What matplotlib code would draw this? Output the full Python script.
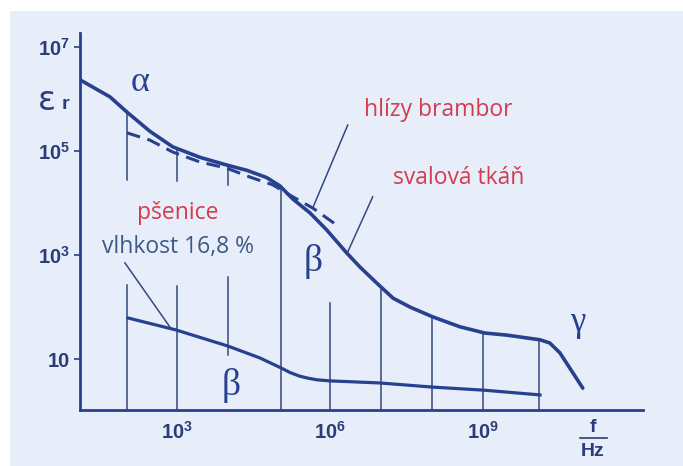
import numpy as np
import matplotlib
matplotlib.use('Agg')
import matplotlib.pyplot as plt
from matplotlib.patches import Rectangle

# exponents (log10)
# svalova tkan (solid upper curve)
musc_f = [1.10, 1.69, 2.02, 2.47, 2.92, 3.45, 3.98, 4.37, 4.76, 5.02, 5.27, 5.61,
          5.94, 6.33, 6.59, 6.92, 7.24, 7.57, 8.02, 8.55, 9.04, 9.47, 10.12, 10.31,
          10.51, 10.96]
musc_e = [6.37, 6.04, 5.75, 5.38, 5.08, 4.88, 4.73, 4.63, 4.49, 4.33, 4.08, 3.81,
          3.48, 3.04, 2.77, 2.46, 2.17, 2.00, 1.81, 1.62, 1.50, 1.46, 1.37, 1.31,
          1.12, 0.44]
# hlizy brambor (dashed)
pot_f = [2.02, 2.47, 2.92, 3.45, 3.98, 4.43, 4.88, 5.22, 5.67, 6.10]
pot_e = [5.35, 5.21, 4.98, 4.79, 4.67, 4.50, 4.35, 4.15, 3.90, 3.60]
# psenice, vlhkost 16,8 %
wheat_f = [2.04, 2.98, 4.00, 4.63, 5.04, 5.22, 5.41, 5.58, 5.75, 6.00, 6.98, 8.02, 9.04, 10.12]
wheat_e = [1.79, 1.56, 1.25, 1.02, 0.83, 0.74, 0.67, 0.63, 0.60, 0.58, 0.54, 0.46, 0.40, 0.31]

# hatching: (freq exp, bottom exp, top exp or None = up to solid curve)
hatch = [(2.02, 0.0, 2.42), (2.02, 4.44, None),
         (3.00, 0.0, 2.40), (3.00, 4.42, None),
         (4.00, 1.08, 2.58), (4.00, 4.35, None),
         (5.04, 0.0, None), (6.00, 0.0, 2.08),
         (7.00, 0.0, None), (8.00, 0.0, None), (9.00, 0.0, None), (10.10, 0.0, None)]

yticks = [1, 3, 5, 7]
ytick_labels = ['10', r'$\mathbf{10^{3}}$', r'$\mathbf{10^{5}}$', r'$\mathbf{10^{7}}$']
xticks = [3, 6, 9]
xtick_labels = [r'$\mathbf{10^{3}}$', r'$\mathbf{10^{6}}$', r'$\mathbf{10^{9}}$']

navy = '#27418f'
thin = '#34477f'
lab = '#2b3c78'
red = '#d23c4e'

plt.rcParams['mathtext.fontset'] = 'custom'
plt.rcParams['mathtext.rm'] = 'Liberation Sans'
plt.rcParams['mathtext.bf'] = 'Liberation Sans:bold'

fig = plt.figure(figsize=(6.83, 4.66), dpi=100)
fig.patch.set_facecolor('white')
fig.patches.append(Rectangle((10/683, 0), 1, 455/466, transform=fig.transFigure,
                             facecolor='#e7eef9', edgecolor='none', zorder=-10))

ax = fig.add_axes([80/683, 56/466, 563/683, 377/466])
ax.patch.set_alpha(0)
ax.set_xscale('log')
ax.set_yscale('log')
ax.set_xlim(10**1.10, 10**12.14)
ax.set_ylim(10**0.02, 10**7.27)

mf = 10.0 ** np.array(musc_f)
me = 10.0 ** np.array(musc_e)
ax.plot(mf, me, color=navy, lw=2.6, solid_capstyle='round', solid_joinstyle='round',
        zorder=3)
ax.plot(10.0 ** np.array(pot_f), 10.0 ** np.array(pot_e), color=navy, lw=2.2,
        dashes=(4.5, 2.5), zorder=3)
ax.plot(10.0 ** np.array(wheat_f), 10.0 ** np.array(wheat_e), color=navy, lw=2.3,
        solid_joinstyle='round', zorder=3)

for xf, lo, hi in hatch:
    if hi is None:
        hi = np.interp(xf, musc_f, musc_e)
    ax.plot([10**xf, 10**xf], [10**lo, 10**hi], color=thin, lw=1.1, zorder=2)

# pointer lines
ax.plot([10**6.35, 10**5.67], [10**5.50, 10**3.92], color=thin, lw=1.1)
ax.plot([10**6.84, 10**6.35], [10**4.12, 10**3.06], color=thin, lw=1.1)
ax.plot([10**1.98, 10**2.86], [10**2.85, 10**1.62], color=thin, lw=1.1)

for s in ['top', 'right']:
    ax.spines[s].set_visible(False)
for s in ['left', 'bottom']:
    ax.spines[s].set_color(navy)
    ax.spines[s].set_linewidth(2)

ax.set_yticks([10.0**v for v in yticks])
ax.set_yticklabels(ytick_labels)
ax.set_xticks([10.0**v for v in xticks])
ax.set_xticklabels(xtick_labels)
ax.minorticks_off()
ax.tick_params(axis='y', length=4, width=1.2, color=navy, pad=3,
               labelsize=14.5, labelcolor=lab)
ax.tick_params(axis='x', length=0, pad=8, labelsize=14.5, labelcolor=lab)
for t in ax.get_yticklabels() + ax.get_xticklabels():
    t.set_fontfamily('Liberation Sans')
    t.set_fontweight('bold')

# labels
serif = 'Liberation Serif'
ax.text(10**2.27, 10**6.31, 'α', fontsize=26, family=serif, color=navy,
        ha='center', va='center')
ax.text(10**5.67, 10**2.87, 'β', fontsize=27, family=serif, color=navy,
        ha='center', va='center')
ax.text(10**4.06, 10**0.50, 'β', fontsize=27, family=serif, color=navy,
        ha='center', va='center')
ax.text(10**10.86, 10**1.71, 'γ', fontsize=25, family=serif, color=navy,
        ha='center', va='center')

ax.text(10**8.12, 10**5.79, 'hlízy brambor', fontsize=16.5, family='Open Sans',
        color=red, ha='center', va='center')
ax.text(10**8.53, 10**4.48, 'svalová tkáň', fontsize=16.5, family='Open Sans',
        color=red, ha='center', va='center')
ax.text(10**3.02, 10**3.81, 'pšenice', fontsize=16.5, family='Open Sans',
        color=red, ha='center', va='center')
ax.text(10**3.02, 10**3.15, 'vlhkost 16,8 %', fontsize=16.5, family='Open Sans',
        color='#3d5a86', ha='center', va='center')

# axis names
fig.text(47/683, 1 - 100/466, 'ε', fontsize=24, color=lab, ha='center', va='center',
         family='DejaVu Sans')
fig.text(65/683, 1 - 104/466, 'r', fontsize=14, color=lab, ha='center', va='center',
         family='Liberation Sans', fontweight='bold')
fig.text(593/683, 1 - 427/466, 'f', fontsize=14, color=lab, ha='center', va='center',
         family='Liberation Sans', fontweight='bold')
fig.add_artist(plt.Line2D([580/683, 607/683], [1 - 438/466, 1 - 438/466],
                          color=lab, lw=1.2))
fig.text(593/683, 1 - 452/466, 'Hz', fontsize=14, color=lab, ha='center', va='center',
         family='Liberation Sans', fontweight='bold')

fig.savefig('out.png', dpi=100)
